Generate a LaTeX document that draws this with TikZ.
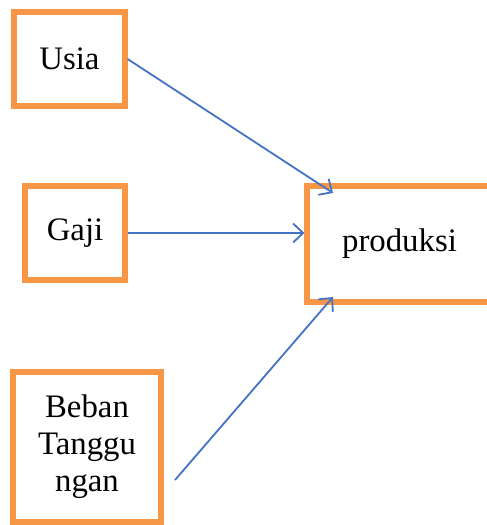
\documentclass[tikz,border=0pt]{standalone}
\usepackage{fontspec}
\setmainfont{Liberation Serif}
\usetikzlibrary{arrows.meta,positioning}
\definecolor{boxorange}{RGB}{247,150,70}
\definecolor{arrowblue}{RGB}{68,114,196}

\begin{document}
\begin{tikzpicture}[x=0.5pt,y=-0.5pt,
    var/.style={draw=boxorange, line width=2.6pt, fill=white, align=center,
      inner sep=0pt, font=\fontsize{16.4}{18.5}\selectfont},
    link/.style={draw=arrowblue, line width=0.9pt,
      -{Straight Barb[length=5pt,width=9.5pt,line width=0.9pt]}}]
  \clip (0,0) rectangle (487,525);

  % independent variables
  \node [var, minimum width=55.5pt, minimum height=47pt] (usia) at (69.5,59) {Usia};
  \node [var, minimum width=50pt, minimum height=47pt] (gaji) at (75,233) {Gaji};
  \node [var, minimum width=74pt, minimum height=75pt] (beban) at (87,447)
    {Beban\\Tanggu\\ngan};

  % dependent variable
  \node [var, minimum width=92.5pt, minimum height=58pt] (produksi) at (399.5,244) {produksi};

  \coordinate (tipA) at (333,193);    % helper
  \coordinate (tailC) at (175,480);   % helper
  \coordinate (tipC) at (333,297);    % helper

  \draw [link] (usia.east) -- (tipA);
  \draw [link] (gaji.east) -- (gaji.east -| produksi.west);
  \draw [link] (tailC) -- (tipC);
\end{tikzpicture}
\end{document}
